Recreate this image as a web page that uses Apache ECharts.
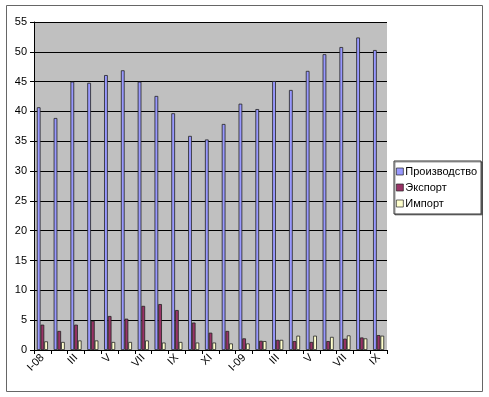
<!DOCTYPE html>
<html>
<head>
<meta charset="utf-8">
<script src="https://cdn.jsdelivr.net/npm/echarts@6/dist/echarts.min.js"></script>
<style>
html,body{margin:0;padding:0;background:#fff;}
#chart{width:489px;height:397px;}
</style>
</head>
<body>
<div id="chart"></div>
<script>
// месяцы
var months = ['I-08','II','III','IV','V','VI','VII','VIII','IX','X','XI','XII',
	'I-09','II','III','IV','V','VI','VII','VIII','IX'];
var seriesNames = ['Производство','Экспорт','Импорт'];
var production = [40.7,38.9,45.0,44.8,46.1,46.9,45.0,42.6,39.7,35.9,35.3,37.9,
	41.3,40.4,45.1,43.6,46.8,49.6,50.8,52.4,50.3];
var exportVals = [4.25,3.2,4.25,4.9,5.7,5.25,7.4,7.7,6.7,4.6,2.9,3.2,
	1.95,1.55,1.7,1.5,1.35,1.5,1.9,2.1,2.5];
var importVals = [1.45,1.35,1.6,1.6,1.35,1.35,1.6,1.25,1.35,1.25,1.25,1.1,
	1.1,1.5,1.7,2.4,2.4,2.2,2.45,1.95,2.4];
var yTicks = [0,5,10,15,20,25,30,35,40,45,50,55];

var font = '"Liberation Sans", Arial, sans-serif';
var myChart = echarts.init(document.getElementById('chart'));
function barSeries(name,data,color){
	return {
		name:name,
		type:'bar',
		data:data,
		barGap:0,
		barCategoryGap:'34%',
		itemStyle:{color:color,borderColor:'#222',borderWidth:0.8},
		emphasis:{disabled:true}
	};
}
var option = {
	backgroundColor:'#fff',
	animation:false,
	textStyle:{fontFamily:font},
	graphic:[{
		type:'rect',
		shape:{x:6.5,y:5.5,width:476,height:386},
		style:{fill:null,stroke:'#666',lineWidth:1},
		z:-1
	}],
	grid:{left:34,right:102,top:22,bottom:47,show:true,backgroundColor:'#c0c0c0',borderWidth:0},
	legend:{
		orient:'vertical',
		left:394,
		top:161,
		padding:[5,4,5,2],
		itemWidth:7,
		itemHeight:7,
		itemGap:5,
		icon:'rect',
		borderColor:'#333',
		borderWidth:1,
		backgroundColor:'#fff',
		shadowColor:'rgba(0,0,0,0.4)',
		shadowOffsetX:1,
		shadowOffsetY:1,
		itemStyle:{borderColor:'#222',borderWidth:0.7},
		textStyle:{fontFamily:font,fontSize:11,color:'#000',padding:[0,0,0,-3]},
		data:seriesNames
	},
	xAxis:{
		type:'category',
		data:months,
		axisLine:{lineStyle:{color:'#000',width:1}},
		axisTick:{show:true,interval:0,length:4,lineStyle:{color:'#000'}},
		axisLabel:{interval:1,rotate:45,fontSize:11,color:'#000',fontFamily:font,margin:6}
	},
	yAxis:{
		type:'value',
		min:yTicks[0],
		max:yTicks[yTicks.length-1],
		interval:5,
		axisLine:{show:true,lineStyle:{color:'#000',width:1}},
		axisTick:{show:true,length:4,lineStyle:{color:'#000'}},
		axisLabel:{fontSize:11,color:'#000',fontFamily:font,margin:7},
		splitLine:{lineStyle:{color:'#000',width:1}}
	},
	series:[
		barSeries(seriesNames[0],production,'#9999ff'),
		barSeries(seriesNames[1],exportVals,'#993366'),
		barSeries(seriesNames[2],importVals,'#ffffcc')
	]
};
myChart.setOption(option);
</script>
</body>
</html>
